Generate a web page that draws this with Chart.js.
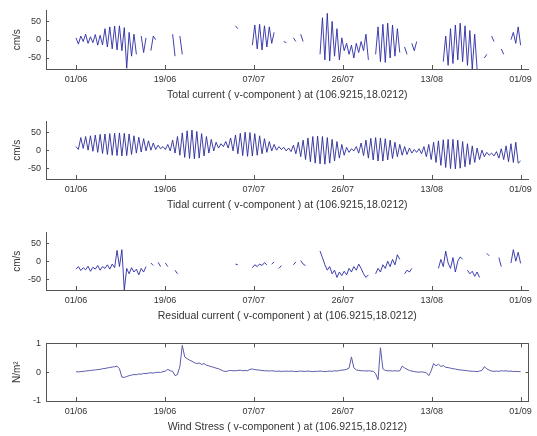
<!DOCTYPE html>
<html><head><meta charset="utf-8">
<script src="https://cdn.jsdelivr.net/npm/chart.js@4"></script>
<style>
html,body{margin:0;padding:0;background:#fff;overflow:hidden;width:537px;height:436px;position:relative}
canvas{position:absolute;left:0}
</style>
</head><body>
<canvas id="c1" width="537" height="105" style="top:0px"></canvas>
<canvas id="c2" width="537" height="104" style="top:111px"></canvas>
<canvas id="c3" width="537" height="104" style="top:222px"></canvas>
<canvas id="c4" width="537" height="104" style="top:333px"></canvas>
<script>
// ---- axis definitions (days since 01/06) ----
const xMin = -6.2, xMax = 93.65;
const tickDays = [0, 18.4, 36.8, 55.2, 73.6, 92];
const tickLabels = ['01/06','19/06','07/07','26/07','13/08','01/09'];
const stepDays = 0.5; // sample spacing of all series (12 h)

const titles = [
  'Total current ( v-component ) at (106.9215,18.0212)',
  'Tidal current ( v-component ) at (106.9215,18.0212)',
  'Residual current ( v-component ) at (106.9215,18.0212)',
  'Wind Stress ( v-component ) at (106.9215,18.0212)'
];
const yTitles = ['cm/s','cm/s','cm/s','N/m\u00B2'];
const currentTicks = [-50, 0, 50];
const windTicks = [-1, 0, 1];

// ---- series values (12-hourly, null = no data) ----
const totalV = [
 5,-12,10,-5,15,-10,8,-8,14,-15,
 12,-14,30,-20,35,-25,37,-28,38,-30,
 33,-78,20,-45,15,-40,null,10,-35,5,
 null,-30,10,0,null,8,null,5,null,null,
 15,-45,null,10,-40,null,null,null,null,null,
 null,null,null,null,null,null,null,null,null,null,
 null,null,null,null,null,null,38,30,null,null,
 null,null,null,-15,40,-25,42,-28,38,-20,
 35,-10,20,null,null,null,-5,-8,null,null,
 5,-5,null,15,-5,null,null,null,null,null,
 null,-40,60,-55,72,-58,50,-45,30,-55,
 5,-30,-10,-40,-15,-50,-10,-35,-5,-30,
 15,-55,null,null,-40,35,-60,42,-62,45,
 -50,40,-45,30,-35,null,-20,-40,null,-10,
 -30,-5,null,null,null,null,null,null,null,null,
 null,null,-60,10,-70,30,-65,40,-55,45,
 -60,38,-70,25,-80,15,-80,null,null,-50,
 -40,null,10,-5,null,null,-25,-40,null,null,
 0,20,-10,35,-15
];
const tidalV = [
 10,2, 35,5, 38,0, 40,-3, 42,-6, 44,-9, 45,-12, 46,-14, 47,-15, 48,-16,
 47,-15, 45,-12, 40,-8, 36,-5, 32,-2, 26,0, 20,2, 14,4, 10,2, 16,-2,
 28,-8, 38,-14, 48,-20, 54,-23, 56,-24, 52,-22, 46,-16, 38,-8, 30,-2, 22,6,
 18,10, 24,6, 34,-2, 42,-10, 47,-15, 50,-17, 49,-16, 46,-14, 40,-10, 32,-6,
 24,-2, 16,0, 10,2, 8,-2, 6,-4, 14,-10, 22,-18, 28,-26, 34,-32, 38,-36,
 39,-38, 38,-39, 35,-36, 30,-30, 24,-22, 16,-14, 8,-6, 4,-2, 10,-8, 20,-15,
 28,-22, 33,-27, 35,-30, 34,-30, 32,-27, 28,-23, 22,-18, 16,-14, 10,-12, 6,-8,
 2,-6, 4,-10, 10,-18, 16,-26, 22,-34, 26,-42, 29,-48, 30,-51, 30,-52, 28,-50,
 24,-46, 18,-40, 12,-34, 6,-26, 0,-18, -6,-14, -8,-16, -4,-22, 4,-26, 12,-32,
 18,-34, 22,-36, -30
];
const residualV = [
 -22,-15,-26,-18,-24,-14,-28,-17,-22,-12,
 -25,-15,-20,-10,-22,-8,-18,30,-15,32,
 -80,-20,-35,-18,-30,-22,-38,-20,-30,-15,
 null,-5,-12,null,-3,-15,null,-5,-15,null,
 null,-25,-35,null,null,null,null,null,null,null,
 null,null,null,null,null,null,null,null,null,null,
 null,null,null,null,null,null,-8,-10,null,null,
 null,null,null,-18,-10,-15,-8,-12,-4,-10,
 null,-8,-2,null,-20,-12,null,null,null,null,
 -10,-2,null,2,-8,-12,null,null,null,null,
 null,28,10,-10,-25,-15,-35,-25,-45,-30,
 -40,-28,-38,-20,-30,-15,-25,-8,-20,-35,
 -45,-38,null,null,-35,-20,-30,-10,-20,0,
 -15,5,-10,18,5,null,-35,-25,-30,-20,
 null,null,null,null,null,null,null,null,null,null,
 -20,5,-15,28,-5,-20,10,-30,0,12,
 5,null,-25,-35,-28,-42,-30,-45,null,null,
 22,15,null,null,null,10,-15,null,null,null,
 -5,32,0,25,-6
];
const windV = [
 0.02,0.01,0.02,0.03,0.04,0.05,0.06,0.07,0.08,0.09,
 0.10,0.12,0.13,0.15,0.16,0.18,0.19,0.21,0.12,-0.17,
 -0.18,-0.15,-0.12,-0.10,-0.08,-0.09,-0.06,-0.07,-0.04,-0.05,
 -0.03,-0.02,-0.03,-0.01,0.00,-0.01,0.02,0.04,0.10,0.05,
 0.03,-0.12,-0.08,0.20,0.93,0.53,0.47,0.42,0.38,0.33,
 0.30,0.32,0.27,0.30,0.24,0.22,0.19,0.17,0.14,0.12,
 0.08,0.04,0.02,0.05,0.06,0.05,0.05,0.06,0.07,0.05,
 0.06,0.05,0.10,0.11,0.09,0.08,0.07,0.06,0.05,0.05,
 0.04,0.05,0.04,0.03,0.04,0.03,0.03,0.04,0.03,0.04,
 0.03,0.02,0.03,0.04,0.03,0.03,0.04,0.03,0.02,0.03,
 0.03,0.04,0.03,0.02,0.03,0.04,0.03,0.05,0.04,0.06,
 0.07,0.08,0.10,0.14,0.53,0.15,0.08,0.06,0.05,0.05,
 0.04,0.05,0.04,0.03,-0.05,-0.26,0.85,0.12,0.06,0.05,
 0.05,0.04,0.05,0.04,0.05,0.21,0.15,0.10,0.06,0.04,
 0.02,0.01,0.00,0.01,0.00,-0.02,-0.12,0.05,0.30,0.22,
 0.28,0.20,0.23,0.17,0.16,0.14,0.12,0.11,0.09,0.08,
 0.07,0.06,0.05,0.04,0.03,0.03,0.02,0.04,0.06,0.19,
 0.12,0.07,0.04,0.03,0.04,0.03,0.05,0.04,0.05,0.03,
 0.04,0.02,0.03,0.02,0.02
];

// ---- drawing ----
const FONT = '"Liberation Sans", Arial, Helvetica, sans-serif';
const AXIS = '#555555';
const TEXT = '#333333';

const inTicks = {
  id: 'inTicks',
  afterDraw(chart) {
    const o = chart.options.plugins.inTicks || {};
    const {ctx, chartArea: a, scales: {x, y}} = chart;
    ctx.save();
    ctx.strokeStyle = AXIS;
    ctx.lineWidth = 1;
    ctx.beginPath();
    if (o.box) {
      ctx.moveTo(a.left, Math.round(a.top) + 0.5);
      ctx.lineTo(a.right, Math.round(a.top) + 0.5);
      ctx.moveTo(Math.round(a.right) - 0.5, a.top);
      ctx.lineTo(Math.round(a.right) - 0.5, a.bottom);
    }
    x.ticks.forEach(t => {
      const px = Math.round(x.getPixelForValue(t.value)) + 0.5;
      ctx.moveTo(px, a.bottom); ctx.lineTo(px, a.bottom - 4);
      if (o.box) { ctx.moveTo(px, a.top); ctx.lineTo(px, a.top + 4); }
    });
    y.ticks.forEach(t => {
      const py = Math.round(y.getPixelForValue(t.value)) + 0.5;
      ctx.moveTo(a.left, py); ctx.lineTo(a.left + 3, py);
      if (o.box) { ctx.moveTo(a.right, py); ctx.lineTo(a.right - 3, py); }
    });
    ctx.stroke();
    ctx.restore();
  }
};

function toPoints(vals) {
  return vals.map((v, i) => ({x: i * stepDays, y: v}));
}

const panels = [
  {id: 'c1', vals: totalV, yMin: -80, yMax: 80, yTicks: currentTicks, box: false, color: '#2a2aa6', lw: 0.9},
  {id: 'c2', vals: tidalV, yMin: -80, yMax: 80, yTicks: currentTicks, box: false, color: '#2a2a9a', lw: 0.9},
  {id: 'c3', vals: residualV, yMin: -80, yMax: 80, yTicks: currentTicks, box: false, color: '#2a2aa6', lw: 0.9},
  {id: 'c4', vals: windV, yMin: -1, yMax: 1, yTicks: windTicks, box: true, color: '#5a5aaa', lw: 1}
];

panels.forEach((p, k) => {
  new Chart(document.getElementById(p.id), {
    type: 'line',
    data: {datasets: [{
      data: toPoints(p.vals),
      borderColor: p.color, borderWidth: p.lw,
      pointRadius: 0, tension: 0, spanGaps: false, fill: false
    }]},
    options: {
      responsive: false, animation: false, devicePixelRatio: 1,
      layout: {padding: {top: 7, left: 0, right: 8, bottom: 0}},
      plugins: {legend: {display: false}, tooltip: {enabled: false}, inTicks: {box: p.box}},
      scales: {
        x: {
          type: 'linear', min: xMin, max: xMax,
          afterBuildTicks: s => { s.ticks = tickDays.map(v => ({value: v})); },
          afterFit: s => { s.height = 36; },
          ticks: {autoSkip: false, maxRotation: 0, padding: 5, color: TEXT,
                  font: {family: FONT, size: 9}, callback: (v, i) => tickLabels[i]},
          grid: {display: true, drawOnChartArea: false, drawTicks: false},
          border: {display: true, color: AXIS, width: 1},
          title: {display: true, text: titles[k], color: TEXT,
                  font: {family: FONT, size: 10.5}, padding: {top: 0, bottom: 4}}
        },
        y: {
          min: p.yMin, max: p.yMax,
          afterBuildTicks: s => { s.ticks = p.yTicks.map(v => ({value: v})); },
          afterFit: s => { s.width = 46; },
          ticks: {padding: 5, color: TEXT, font: {family: FONT, size: 9}, callback: v => String(v)},
          grid: {display: true, drawOnChartArea: false, drawTicks: false},
          border: {display: true, color: AXIS, width: 1},
          title: {display: true, text: yTitles[k], color: TEXT,
                  font: {family: FONT, size: 10}, padding: {top: 11, bottom: 0}}
        }
      }
    },
    plugins: [inTicks]
  });
});
</script>
</body></html>
